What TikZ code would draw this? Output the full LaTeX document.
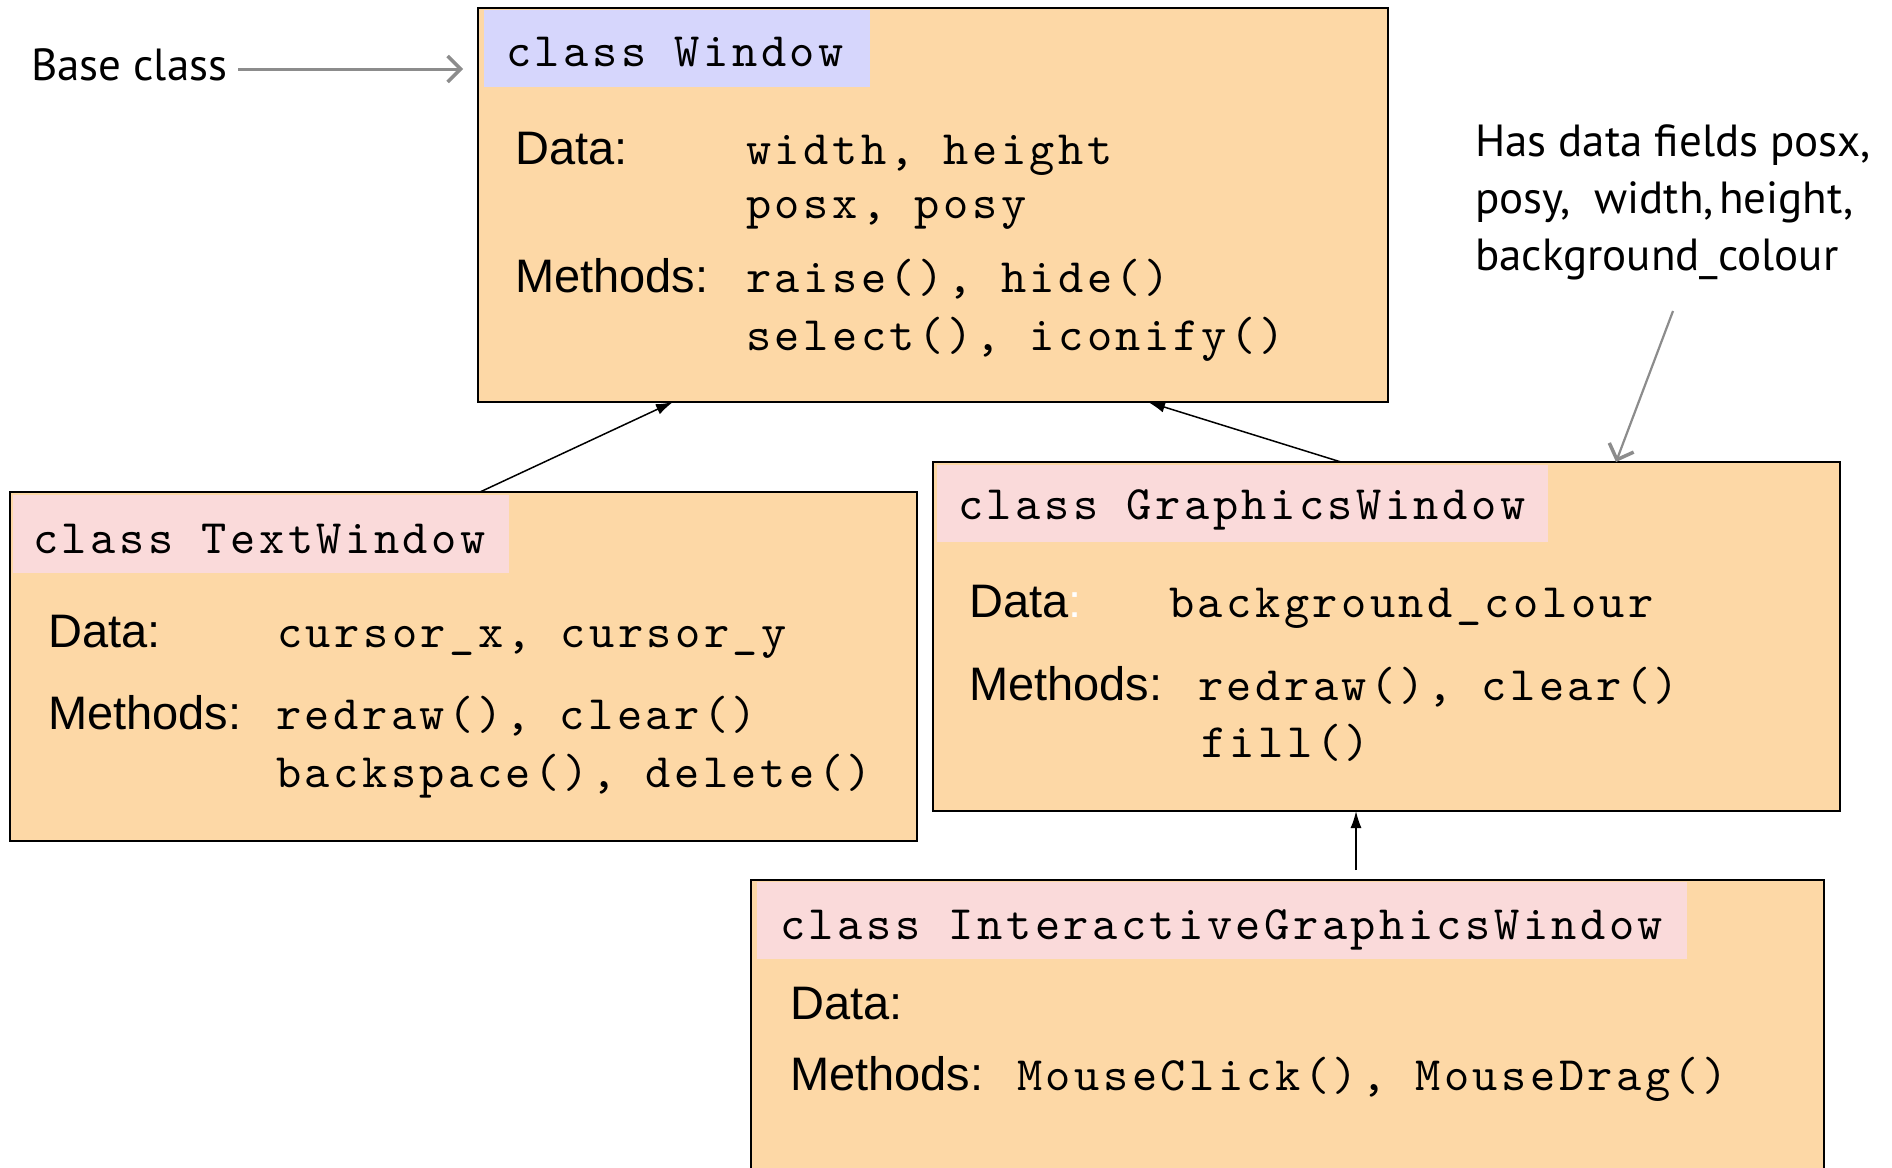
\documentclass[tikz,border=0pt]{standalone}
\usepackage{fontspec}
\setmainfont{Liberation Sans}
\newfontfamily\notefont{PT Sans}
\newfontfamily\codefont{lmmono10-regular}[Extension=.otf,LetterSpace=7.3]
\usetikzlibrary{arrows.meta}
\definecolor{boxfill}{RGB}{253,216,166}
\definecolor{lav}{RGB}{214,214,252}
\definecolor{pinkh}{RGB}{250,218,218}
\definecolor{arrowgray}{RGB}{140,140,140}
\tikzset{
 cbox/.style={draw=black, line width=1.8pt, fill=boxfill, rectangle, inner sep=0pt, outer sep=0pt, anchor=north west},
 hdr/.style={rectangle, inner sep=0pt, outer sep=0pt, anchor=north west},
 code/.style={inner sep=0pt, anchor=base west, font=\fontsize{48}{56}\codefont},
 lbl/.style={inner sep=0pt, anchor=base west, font=\fontsize{47}{56}\selectfont},
 note/.style={inner sep=0pt, anchor=base west, font=\fontsize{45}{57}\notefont},
 inh/.style={-{Latex[length=17pt,width=11pt]}, line width=1.5pt, draw=black},
 garrow/.style={-{Straight Barb[length=13pt,width=26pt,line width=3.5pt]}, line width=3pt, draw=arrowgray},
}
\begin{document}
\begin{tikzpicture}[x=1pt,y=-1pt]
\clip (0,0) rectangle (1892,1167);
\fill[white] (0,0) rectangle (1892,1167);

% boxes
\node[cbox, minimum width=910pt, minimum height=394pt] (win) at (478,8) {};
\node[hdr, fill=lav, minimum width=386pt, minimum height=77pt] (winh) at (484,10) {};
\node[cbox, minimum width=907pt, minimum height=349pt] (tw) at (10,492) {};
\node[hdr, fill=pinkh, minimum width=496pt, minimum height=78pt] (twh) at (13,495) {};
\node[cbox, minimum width=907pt, minimum height=349pt] (gw) at (933,462) {};
\node[hdr, fill=pinkh, minimum width=611pt, minimum height=77pt] (gwh) at (937,465) {};
\node[cbox, minimum width=1073pt, minimum height=340pt] (igw) at (751,880) {};
\node[hdr, fill=pinkh, minimum width=930pt, minimum height=77pt] (igwh) at (757,882) {};

% Base class label
\node[note] (bc) at (31,80) {Base class};
\coordinate (bcS) at (238,69);
\coordinate (bcE) at (463,69);
\draw[garrow] (bcS) -- (bcE);

% Window
\node[code] (winT) at (506,66) {class Window};
\node[lbl] (winD) at (515,164) {Data:};
\node[code] (winD1) at (746,164) {width, height};
\node[code] (winD2) at (746,218) {posx, posy};
\node[lbl] (winM) at (515,292) {Methods:};
\node[code] (winM1) at (746,292) {raise(), hide()};
\node[code] (winM2) at (746,350) {select(), iconify()};

% TextWindow
\node[code] (twT) at (33,553) {class TextWindow};
\node[lbl] (twD) at (48,647) {Data:};
\node[code] (twD1) at (277,647) {cursor\_x, cursor\_y};
\node[lbl] (twM) at (48,729) {Methods:};
\node[code] (twM1) at (276,729) {redraw(), clear()};
\node[code] (twM2) at (276,787) {backspace(), delete()};

% GraphicsWindow
\node[code] (gwT) at (958,519) {class GraphicsWindow};
\node[lbl] (gwD) at (969,617) {Data\textcolor{white}{:}};
\node[code] (gwD1) at (1169,617) {background\_colour};
\node[lbl] (gwM) at (969,700) {Methods:};
\node[code] (gwM1) at (1198,700) {redraw(), clear()};
\node[code] (gwM2) at (1201,757) {fill()};

% InteractiveGraphicsWindow
\node[code] (igT) at (780,939) {class InteractiveGraphicsWindow};
\node[lbl] (igD) at (790,1019) {Data:};
\node[lbl] (igM) at (790,1090) {Methods:};
\node[code] (igM1) at (1017,1090) {MouseClick(), MouseDrag()};

% annotation
\node[note] (n1) at (1475,156) {Has data fields posx,};
\node[note] (n2) at (1475,213) {posy,~ width,\hspace{0.12em}height,};
\node[note] (n3) at (1475,270) {background\_colour};
\coordinate (nS) at (1673,311);
\draw[garrow, line width=2.2pt] (nS) -- ([xshift=683pt]gw.north west);

% inheritance arrows
\draw[inh] ([xshift=470pt]tw.north west) -- ([xshift=195pt]win.south west);
\draw[inh] ([xshift=408pt]gw.north west) -- ([xshift=670pt]win.south west);
\draw[inh] ([xshift=605pt,yshift=10pt]igw.north west) -- ([xshift=423pt]gw.south west);
\end{tikzpicture}
\end{document}
